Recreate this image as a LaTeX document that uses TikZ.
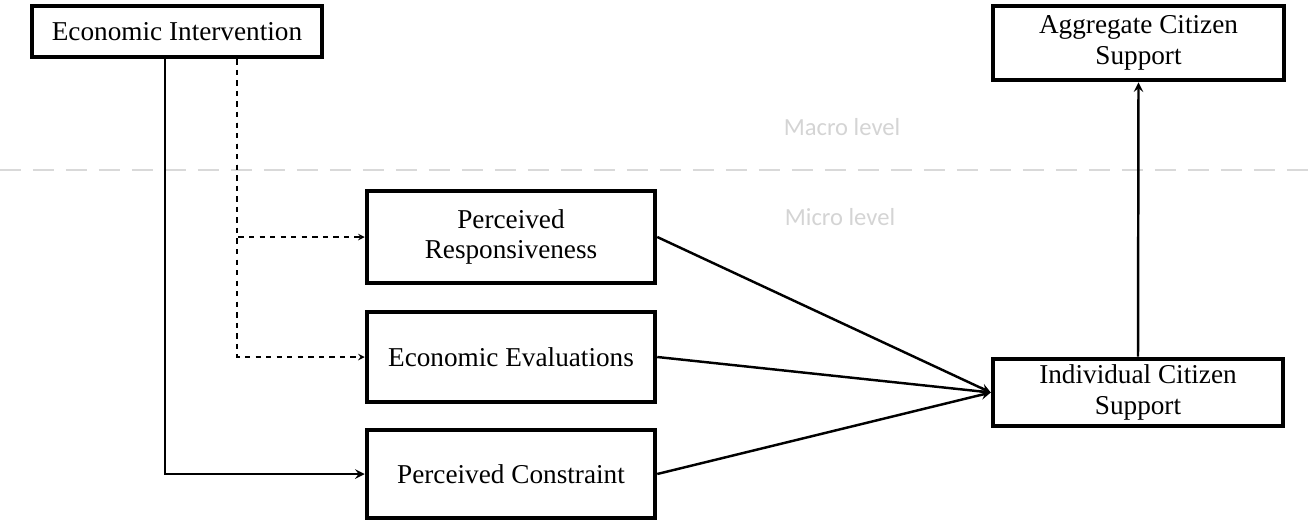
\documentclass[tikz,border=0pt]{standalone}
\usepackage{fontspec}
\setmainfont{Liberation Serif}
\newfontfamily\levelfont{Carlito}
\usetikzlibrary{shapes}
\usetikzlibrary{positioning}

\begin{document}
\begin{tikzpicture}[x=0.02cm,y=-0.02cm,>=stealth,line width=1.4pt,
  box/.style={rectangle,draw,line width=2.6pt,align=center,inner sep=2pt,font=\fontsize{15.5}{17.5}\selectfont},
  level/.style={font=\levelfont\fontsize{14}{16}\selectfont,text=black!17}]

	      \useasboundingbox (0,0) rectangle (1309,521);

	      \node[box,minimum width=5.8cm,minimum height=1.02cm] at (177,31.5) (ei) {Economic Intervention};
	      \node[box,minimum width=5.82cm,minimum height=1.48cm] at (1138.5,43) (acs) {Aggregate Citizen\\Support};
	      \node[box,minimum width=5.76cm,minimum height=1.84cm] at (511,237) (pr) {Perceived\\Responsiveness};
	      \node[box,minimum width=5.76cm,minimum height=1.8cm] at (511,357) (ee) {Economic Evaluations};
	      \node[box,minimum width=5.76cm,minimum height=1.76cm] at (511,474) (pc) {Perceived Constraint};
	      \node[box,minimum width=5.8cm,minimum height=1.34cm] at (1138,392.5) (ics) {Individual Citizen\\Support};

	      \node[level] at (842,127) (macro) {Macro level};
	      \node[level] at (840,217) (micro) {Micro level};
	      \draw[black!15,line width=1.7pt,dash pattern=on 0.42cm off 0.24cm] (0,170) -- (1309,170);

	      \draw[->] ([xshift=-0.24cm]ei.south) |- (pc.west);
	      \draw[->,dashed,line width=0.7pt] ([xshift=1.2cm]ei.south) |- (ee.west);
	      \draw[->,dashed,line width=0.7pt] ([xshift=1.2cm]ei.south) |- (pr.west);

	      \path[->]
	      (pr.east) edge (ics.west)
	      (ee.east) edge (ics.west)
	      (pc.east) edge (ics.west)
	      (ics.north) edge (acs.south)
	      ;

	    \end{tikzpicture}
\end{document}
